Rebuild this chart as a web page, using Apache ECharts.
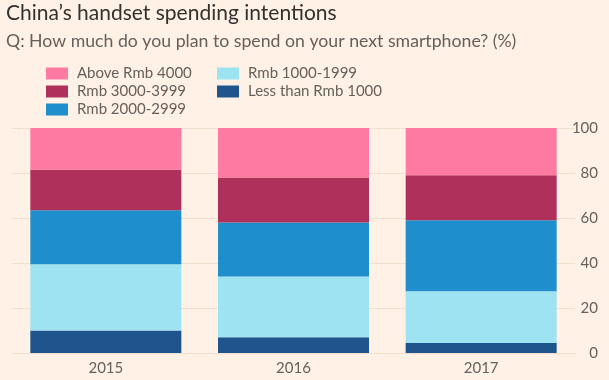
<!DOCTYPE html>
<html>
<head>
<meta charset="utf-8">
<script src="https://cdn.jsdelivr.net/npm/echarts@6/dist/echarts.min.js"></script>
<style>
html,body{margin:0;padding:0;background:#fff1e5;}
#c{width:609px;height:380px;}
</style>
</head>
<body>
<div id="c"></div>
<script>
const categories = ['2015', '2016', '2017'];
const seriesNames = ['Less than Rmb 1000', 'Rmb 1000-1999', 'Rmb 2000-2999', 'Rmb 3000-3999', 'Above Rmb 4000'];
const lessThan1000 = [10, 7, 4.5];
const rmb1000_1999 = [29.5, 27, 23];
const rmb2000_2999 = [24, 24, 31.5];
const rmb3000_3999 = [18, 20, 20];
const above4000 = [18.5, 22, 21];
const yTicks = [0, 20, 40, 60, 80, 100];

const colors = ['#1e558c', '#9ee3f1', '#1f8ecd', '#b0305c', '#ff7aa3'];
const values = [lessThan1000, rmb1000_1999, rmb2000_2999, rmb3000_3999, above4000];

const chart = echarts.init(document.getElementById('c'), null, {renderer: 'canvas'});
const font = 'Lato';
chart.setOption({
  backgroundColor: '#fff1e5',
  animation: false,
  textStyle: {fontFamily: font},
  title: [
    {text: "China\u2019s handset spending intentions", left: 6, top: 3, padding: 0,
     textStyle: {fontSize: 21, fontWeight: 'normal', color: '#33302e', fontFamily: font}},
    {text: 'Q: How much do you plan to spend on your next smartphone? (%)', left: 6, top: 32, padding: 0,
     textStyle: {fontSize: 17.7, fontWeight: 'normal', color: '#66605c', fontFamily: font}}
  ],
  legend: [
    {orient: 'vertical', left: 46, top: 66, padding: 0, itemWidth: 22, itemHeight: 12, itemGap: 3,
     icon: 'rect', data: ['Above Rmb 4000', 'Rmb 3000-3999', 'Rmb 2000-2999'],
     textStyle: {fontSize: 15, color: '#66605c', fontFamily: font, padding: [0, 0, 0, 4]}},
    {orient: 'vertical', left: 217, top: 66, padding: 0, itemWidth: 22, itemHeight: 12, itemGap: 3,
     icon: 'rect', data: ['Rmb 1000-1999', 'Less than Rmb 1000'],
     textStyle: {fontSize: 15, color: '#66605c', fontFamily: font, padding: [0, 0, 0, 4]}}
  ],
  grid: {left: 12, right: 34, top: 128, bottom: 27, containLabel: false},
  xAxis: {
    type: 'category', data: categories,
    axisLine: {show: true, lineStyle: {color: '#f2dfce'}},
    axisTick: {show: false},
    axisLabel: {fontSize: 15, color: '#66605c', margin: 8, fontFamily: font}
  },
  yAxis: {
    type: 'value', position: 'right', min: 0, max: 100, interval: 20,
    axisLine: {show: false}, axisTick: {show: false},
    splitLine: {lineStyle: {color: '#f2dfce'}},
    axisLabel: {fontSize: 15, color: '#66605c', margin: 23, align: 'right', fontFamily: font,
      formatter: v => yTicks.includes(v) ? String(v) : ''}
  },
  series: seriesNames.map((n, i) => ({
    name: n, type: 'bar', stack: 'total', barWidth: 151,
    itemStyle: {color: colors[i]},
    data: values[i]
  }))
});
</script>
</body>
</html>
